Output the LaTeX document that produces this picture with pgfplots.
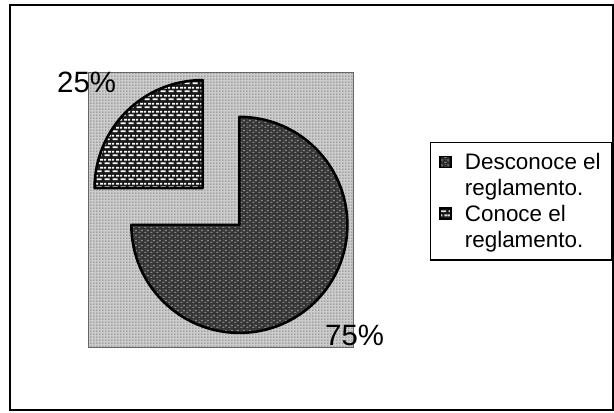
\documentclass[border=0pt]{standalone}
\usepackage{fontspec}
\setmainfont{Liberation Sans}
\usepackage{pgfplots}
\pgfplotsset{compat=1.18}
\usepackage{pgfplotstable}
\usetikzlibrary{patterns,calc}

% white "bricks" on a dark ground (small slice)
\pgfdeclarepatternformonly{bricksw}{\pgfpointorigin}{\pgfpoint{8bp}{8bp}}{\pgfpoint{8bp}{8bp}}{%
  \pgfpathrectangle{\pgfpoint{0.6bp}{0.9bp}}{\pgfpoint{5.8bp}{2.0bp}}%
  \pgfpathrectangle{\pgfpoint{4.6bp}{4.9bp}}{\pgfpoint{3.4bp}{2.0bp}}%
  \pgfpathrectangle{\pgfpoint{0bp}{4.9bp}}{\pgfpoint{2.4bp}{2.0bp}}%
  \pgfusepath{fill}}
% light specks (big slice)
\pgfdeclarepatternformonly{speck}{\pgfpointorigin}{\pgfpoint{6bp}{5bp}}{\pgfpoint{6bp}{5bp}}{%
  \pgfpathrectangle{\pgfpoint{0.4bp}{0.5bp}}{\pgfpoint{2.4bp}{0.9bp}}%
  \pgfpathrectangle{\pgfpoint{3.4bp}{2.9bp}}{\pgfpoint{2.2bp}{0.9bp}}%
  \pgfpathrectangle{\pgfpoint{4.2bp}{0.9bp}}{\pgfpoint{0.9bp}{0.7bp}}%
  \pgfpathrectangle{\pgfpoint{1.0bp}{3.3bp}}{\pgfpoint{0.8bp}{0.7bp}}%
  \pgfusepath{fill}}
% dotted ground (plot area)
\pgfdeclarepatternformonly{gdots}{\pgfpointorigin}{\pgfpoint{3bp}{3bp}}{\pgfpoint{3bp}{3bp}}{%
  \pgfpathrectangle{\pgfpoint{0.5bp}{0.5bp}}{\pgfpoint{1.2bp}{1.2bp}}%
  \pgfusepath{fill}}

\pgfplotstableread{
cat val
Desconoce 75
Conoce 25
}\piedata

\begin{document}
\begin{tikzpicture}
\pgfplotstablegetelem{0}{val}\of\piedata \pgfmathsetmacro\va{\pgfplotsretval}
\pgfplotstablegetelem{1}{val}\of\piedata \pgfmathsetmacro\vb{\pgfplotsretval}
\pgfmathsetmacro\tot{\va+\vb}
\pgfmathsetmacro\fa{\va/\tot}
\pgfmathsetmacro\fb{\vb/\tot}
\pgfmathsetmacro\aA{90}
\pgfmathsetmacro\aB{\aA-360*\fa}
\pgfmathsetmacro\aC{\aB-360*\fb}
\pgfmathsetmacro\midA{(\aA+\aB)/2}
\pgfmathsetmacro\midB{(\aB+\aC)/2}
\pgfmathtruncatemacro\pA{round(100*\fa)}
\pgfmathtruncatemacro\pB{round(100*\fb)}
\def\cx{221}\def\cy{205.5}\def\ex{26}\def\R{108}
\begin{axis}[
  x=1bp, y=1bp, xmin=0, xmax=614, ymin=0, ymax=412,
  scale only axis, hide axis, clip=false,
  legend image code/.code={\draw[#1, line width=0.7bp] (0bp,28.5bp) rectangle (11bp,39.5bp);},
  legend style={at={(0.70033,0.65534)}, anchor=north west, draw=black, line width=1.4bp,
    fill=white, inner xsep=9bp, inner ysep=9bp,
    font=\fontsize{22.5}{26}\selectfont,
    cells={anchor=base west, align=left, inner ysep=1bp, inner xsep=1bp},
    row sep=4bp, column sep=11.5bp},
]
\path (axis cs:0,0) rectangle (axis cs:614,412);
\addlegendimage{draw=black, preaction={fill=black!85}, preaction={pattern=speck, pattern color=white!75!black}}
\addlegendentry{Desconoce el\\reglamento.}
\addlegendimage{draw=black, preaction={fill=black!92}, preaction={pattern=bricksw, pattern color=white!85!black}}
\addlegendentry{Conoce el\\reglamento.}

% chart frame
\draw[line width=2bp] (axis cs:10,2) rectangle (axis cs:613,407);
% plot area
\path[preaction={fill=black!20}, preaction={pattern=gdots, pattern color=black!60}]
  (axis cs:88,65) rectangle (axis cs:353,340);
\draw[black!60, line width=0.9bp] (axis cs:88,65) rectangle (axis cs:353,340);

% slices
\draw[line width=2.6bp, line join=round, preaction={fill=black!80}, preaction={pattern=speck, pattern color=white!72!black}]
  ($(axis cs:\cx,\cy)+(\midA:\ex bp)$) -- ++(\aA:\R bp)
  arc[start angle=\aA, end angle=\aB, radius=\R bp] -- cycle;
\draw[line width=2.6bp, line join=round, preaction={fill=black!90}, preaction={pattern=bricksw, pattern color=white}]
  ($(axis cs:\cx,\cy)+(\midB:\ex bp)$) -- ++(\aB:\R bp)
  arc[start angle=\aB, end angle=\aC, radius=\R bp] -- cycle;

% data labels
\node[anchor=base west, inner sep=0pt, font=\fontsize{29.5}{34}\selectfont] at (axis cs:325,67) {\pA\%};
\node[anchor=base west, inner sep=0pt, font=\fontsize{29.5}{34}\selectfont] at (axis cs:57,320) {\pB\%};
\end{axis}
\end{tikzpicture}
\end{document}
